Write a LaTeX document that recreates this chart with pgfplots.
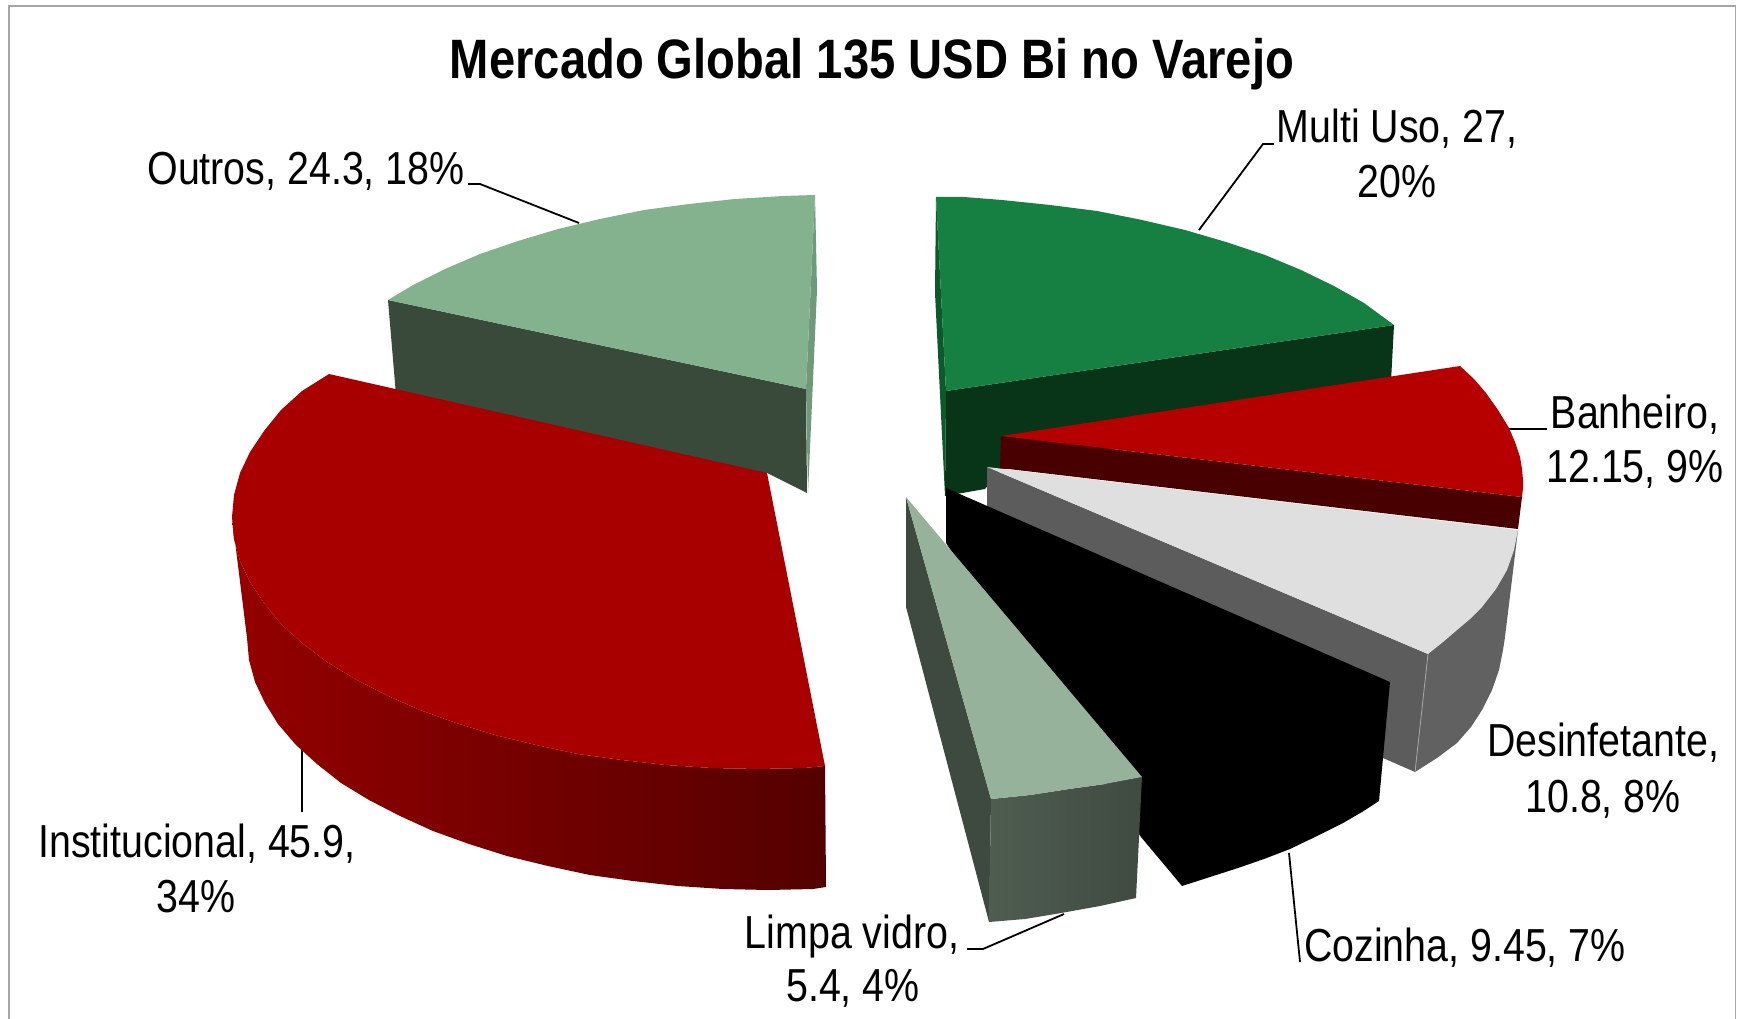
\documentclass[border=0pt]{standalone}
\usepackage{pgfplots}
\pgfplotsset{compat=1.18}
\usepackage{fontspec}
\setmainfont[FakeStretch=0.85]{Liberation Sans}
\tikzset{lab/.style={anchor=base, font=\fontsize{46.3}{46.3}\selectfont, inner sep=0pt}}
\definecolor{otop}{HTML}{84B18E}
\definecolor{oside}{HTML}{394A3A}
\definecolor{osliver}{HTML}{70997C}
\definecolor{itop}{HTML}{A80000}
\definecolor{isideL}{HTML}{940000}
\definecolor{isideR}{HTML}{540000}
\definecolor{gtop}{HTML}{158042}
\definecolor{gside}{HTML}{083418}
\definecolor{gsliver}{HTML}{0C5A2B}
\definecolor{btop}{HTML}{B60000}
\definecolor{bside}{HTML}{480000}
\definecolor{dtop}{HTML}{DFDFDF}
\definecolor{dside}{HTML}{5C5C5C}
\definecolor{dout}{HTML}{616161}
\definecolor{ltop}{HTML}{96B29B}
\definecolor{lside}{HTML}{3E4A3F}
\definecolor{lfrontL}{HTML}{4F5D51}
\definecolor{lfrontR}{HTML}{3F4A40}
\definecolor{frameg}{HTML}{A6A6A6}
\begin{document}
\begin{tikzpicture}
\begin{axis}[
  at={(0,0)}, anchor=south west,
  width=1737pt, height=1019pt, scale only axis,
  xmin=0, xmax=1737, ymin=0, ymax=1019, y dir=reverse,
  hide axis, clip=true,
  every axis plot/.append style={no markers},
]
% page background, holds the full size
\addplot[draw=none, fill=white] coordinates {(0,0) (1737,0) (1737,1019) (0,1019)} -- cycle;
% frame
\addplot[draw=frameg, line width=1.4pt] coordinates {(9,1025) (9,6) (1735.5,6) (1735.5,1025)};
% leader lines
\addplot[black, line width=1.8pt] coordinates {(468,184) (480,184) (579,223)};
\addplot[black, line width=1.8pt] coordinates {(1274,144) (1263,144) (1199,230)};
\addplot[black, line width=1.8pt] coordinates {(1547,429) (1509,429)};
\addplot[black, line width=1.8pt] coordinates {(1289,853) (1300,962)};
\addplot[black, line width=1.8pt] coordinates {(967,949) (983,949) (1064,914)};
\addplot[black, line width=1.8pt] coordinates {(302,745) (302,812)};
% Outros
\addplot[draw=none, fill=oside] coordinates {(388,300) (396,395) (760,482) (767,473) (807,493) (806,389)} -- cycle;
\addplot[draw=none, fill=osliver] coordinates {(815,195) (817,290) (808,493) (806,389)} -- cycle;
\addplot[draw=none, fill=otop] coordinates {(388,300) (413,285) (445,269) (480,254) (518,241) (558,229) (600,219) (644,210) (689,204) (735,199) (783,196) (815,195) (806,389)} -- cycle;
% Institucional
\addplot[draw=none, left color=isideL, right color=isideR] coordinates {(232,517) (234,539) (240,561) (250,582) (264,603) (281,624) (302,643) (327,662) (355,679) (386,695) (420,710) (456,723) (495,735) (536,745) (578,754) (622,760) (666,765) (712,768) (758,769) (804,768) (825,766) (826,887) (813,889) (768,890) (723,889) (678,886) (633,881) (590,875) (548,866) (507,856) (469,844) (433,831) (400,816) (369,800) (341,783) (317,764) (296,745) (278,724) (265,703) (255,682) (249,660) (247,638)} -- cycle;
\addplot[draw=none, fill=itop] coordinates {(329,374) (302,391) (281,410) (264,431) (250,452) (240,473) (234,495) (232,517) (234,539) (240,561) (250,582) (264,603) (281,624) (302,643) (327,662) (355,679) (386,695) (420,710) (456,723) (495,735) (536,745) (578,754) (622,760) (666,765) (712,768) (758,769) (804,768) (825,766) (767,473)} -- cycle;
% Multi Uso
\addplot[draw=none, fill=gsliver] coordinates {(936,197) (935,293) (945,496) (946,391)} -- cycle;
\addplot[draw=none, fill=gside] coordinates {(946,391) (1394,325) (1390,400) (1000,470) (985,489) (945,496)} -- cycle;
\addplot[draw=none, fill=gtop] coordinates {(936,197) (964,197) (1002,200) (1050,205) (1097,211) (1142,220) (1185,230) (1226,242) (1265,255) (1301,270) (1334,286) (1364,303) (1394,325) (946,391)} -- cycle;
% Banheiro
\addplot[draw=none, fill=bside] coordinates {(1001,436) (1000,468) (1518,529) (1522,497)} -- cycle;
\addplot[draw=none, fill=btop] coordinates {(1460,366) (1474,379) (1486,393) (1498,410) (1509,428) (1515,442) (1520,457) (1522,469) (1523,480) (1523,488) (1522,497) (1001,436)} -- cycle;
% Desinfetante
\addplot[draw=none, fill=dside] coordinates {(987,467) (1428,654) (1415,772) (1383,758) (987,520)} -- cycle;
\addplot[draw=none, fill=dout] coordinates {(1518,530) (1428,654) (1415,772) (1437,758) (1457,743) (1471,727) (1482,710) (1492,690) (1499,670) (1503,650) (1505,637)} -- cycle;
\addplot[draw=none, fill=dtop] coordinates {(987,467) (1518,530) (1514,550) (1507,570) (1496,589) (1482,607) (1470,619) (1457,630) (1443,642) (1428,654)} -- cycle;
\addplot[draw=black!35, line width=0.8pt] coordinates {(1428,654) (1415,772)};
% Cozinha
\addplot[draw=none, fill=black] coordinates {(946,488) (1390,682) (1379,801) (1362,812) (1343,823) (1317,836) (1290,849) (1264,859) (1238,868) (1210,877) (1182,886) (1141,837) (946,543)} -- cycle;
% Limpa vidro
\addplot[draw=none, fill=lside] coordinates {(906,497) (991,799) (989,922) (906,607)} -- cycle;
\addplot[draw=none, left color=lfrontL, right color=lfrontR] coordinates {(991,799) (1030,795) (1069,789) (1105,784) (1142,777) (1136,898) (1100,906) (1061,913) (1025,919) (989,922)} -- cycle;
\addplot[draw=none, fill=ltop] coordinates {(906,497) (1142,777) (1105,784) (1069,789) (1030,795) (991,799)} -- cycle;
% text
\node[lab, font=\fontsize{55.5}{55.5}\selectfont\bfseries] at (axis cs:872,79) {Mercado Global 135 USD Bi no Varejo};
\node[lab] at (axis cs:306,185) {Outros, 24.3, 18\%};
\node[lab] at (axis cs:1397,143) {Multi Uso, 27,};
\node[lab] at (axis cs:1397,198) {20\%};
\node[lab] at (axis cs:1635,428) {Banheiro,};
\node[lab] at (axis cs:1635,482) {12.15, 9\%};
\node[lab] at (axis cs:1603,756) {Desinfetante,};
\node[lab] at (axis cs:1603,812) {10.8, 8\%};
\node[lab] at (axis cs:1465,961) {Cozinha, 9.45, 7\%};
\node[lab] at (axis cs:852,948) {Limpa vidro,};
\node[lab] at (axis cs:853,1001) {5.4, 4\%};
\node[lab] at (axis cs:197,857) {Institucional, 45.9,};
\node[lab] at (axis cs:196,912) {34\%};
\end{axis}
\end{tikzpicture}
\end{document}
